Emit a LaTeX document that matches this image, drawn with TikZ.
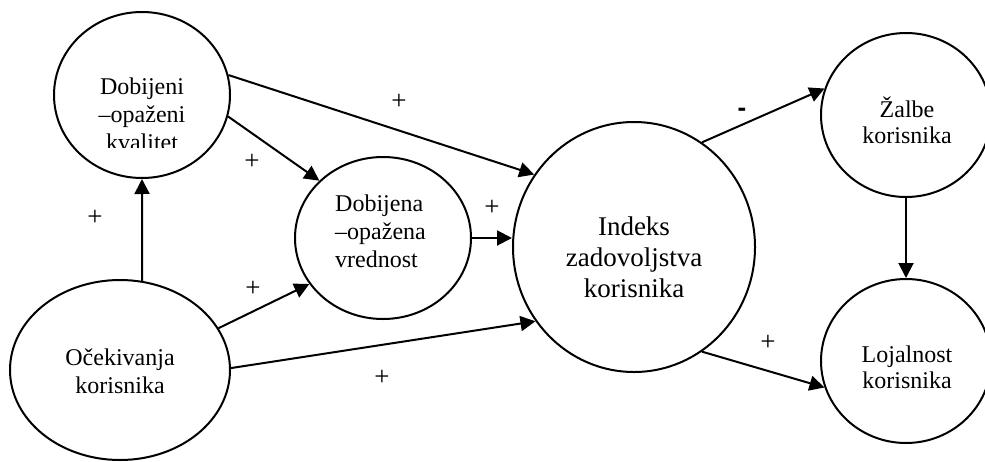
\documentclass[tikz,border=0pt]{standalone}
\usepackage{fontspec}
\setmainfont{Liberation Serif}
\newfontfamily\dashfont{Liberation Sans}
\usetikzlibrary{shapes.geometric,arrows.meta}
\begin{document}
\begin{tikzpicture}[x=1pt,y=-1pt,
  blob/.style={draw, ellipse, line width=2pt, inner sep=0pt, minimum width=#1},
  conn/.style={line width=2pt, -{Triangle[length=15pt,width=15pt]}},
  txt/.style={inner sep=0pt, anchor=base, font=\fontsize{24}{28}\selectfont},
  bigtxt/.style={inner sep=0pt, anchor=base, font=\fontsize{27}{31}\selectfont},
  sign/.style={inner sep=0pt, font=\fontsize{27}{31}\selectfont}]
\useasboundingbox (0,0) rectangle (985,461);
\clip (0,0) rectangle (985,461);
% ellipses
\node[blob=176pt, minimum height=166pt] (dq) at (142,95) {};
\node[blob=176pt, minimum height=162pt] (dv) at (383,238) {};
\node[blob=242pt, minimum height=250pt] (ix) at (634,247) {};
\node[blob=170pt, minimum height=164pt] (zb) at (906,115) {};
\node[blob=170pt, minimum height=164pt] (lj) at (906,361) {};
\node[blob=220pt, minimum height=180pt] (ok) at (120,370) {};
% texts
\node[txt] (dq1) at (142,94) {Dobijeni};
\node[txt] (dq2) at (142,122) {–opaženi};
\begin{scope}
  \clip (80,128) rectangle (210,147);
  \node[txt] (dq3) at (142,150) {kvalitet};
\end{scope}
\node[txt, anchor=base west] (dv1) at (335,211) {Dobijena};
\node[txt, anchor=base west] (dv2) at (335,239) {–opažena};
\node[txt, anchor=base west] (dv3) at (335,267) {vrednost};
\node[bigtxt] (ix1) at (634,235) {Indeks};
\node[bigtxt] (ix2) at (634,266) {zadovoljstva};
\node[bigtxt] (ix3) at (634,297) {korisnika};
\node[txt] (zb1) at (907,117) {Žalbe};
\node[txt] (zb2) at (907,143) {korisnika};
\node[txt] (lj1) at (907,362) {Lojalnost};
\node[txt] (lj2) at (907,388) {korisnika};
\node[txt] (ok1) at (120,365) {Očekivanja};
\node[txt] (ok2) at (120,393) {korisnika};
% connectors
\draw[conn] (ok.76) -- (dq.south);
\draw[conn] (dq.-14) -- (dv.138);
\draw[conn] (dq.13) -- (ix.144);
\draw[conn] (ok.23) -- (dv.-148);
\draw[conn] (ok.1) -- (ix.-143.5);
\draw[conn] (dv.east) -- (dv.east -| ix.west);
\draw[conn] (ix.57) -- (zb.162);
\draw[conn] (ix.-57) -- (lj.-162);
\draw[conn] (zb.south) -- (lj.north);
% signs
\node[sign] (s1) at (95,218) {+};
\node[sign] (s2) at (252,162) {+};
\node[sign] (s3) at (399,102) {+};
\node[sign] (s4) at (253,289) {+};
\node[sign] (s5) at (382,378) {+};
\node[sign] (s6) at (492,208) {+};
\node[sign, font=\dashfont\bfseries\fontsize{26}{30}\selectfont] (s7) at (742,112) {-};
\node[sign] (s8) at (768,343) {+};
\end{tikzpicture}
\end{document}
